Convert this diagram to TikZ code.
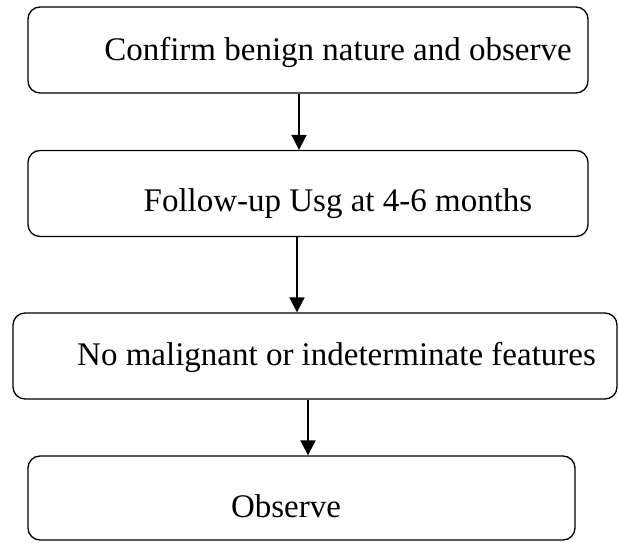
\documentclass[tikz,border=0pt]{standalone}
\usepackage{fontspec}
\setmainfont{Liberation Serif}
\usetikzlibrary{arrows.meta}

% text lowered in its box by #1
\newcommand{\boxtext}[2]{\raisebox{-#1}[0pt][0pt]{#2}}

\begin{document}
\begin{tikzpicture}[x=1pt,y=-1pt,
  stepbox/.style={draw, rounded corners=12pt, line width=1.3pt, minimum height=86pt,
    inner sep=0pt, font=\fontsize{33}{40}\selectfont},
  flow/.style={line width=1.8pt, -{Triangle[length=15pt,width=15pt]}}]
  \useasboundingbox (0,0) rectangle (618,543);

  % Flow boxes
  \node[stepbox, minimum width=560pt] (confirm) at (308,50)
    {\boxtext{10pt}{\hspace*{60pt}Confirm benign nature and observe}};
  \node[stepbox, minimum width=560pt] (followup) at (308,193.5)
    {\boxtext{18pt}{\hspace*{60pt}Follow-up Usg at 4-6 months}};
  \node[stepbox, minimum width=604pt] (nomalig) at (315,356)
    {\boxtext{9pt}{\hspace*{43pt}No malignant or indeterminate features}};
  \node[stepbox, minimum width=547pt, minimum height=84pt] (observe) at (301.5,498)
    {\boxtext{19pt}{Observe\hspace*{31pt}}};

  % Arrows
  \draw[flow] ([xshift=-9pt]confirm.south) -- ([xshift=-9pt]followup.north);
  \draw[flow] ([xshift=-11pt]followup.south) -- ([xshift=-18pt]nomalig.north);
  \draw[flow] ([xshift=-7pt]nomalig.south) -- ([xshift=6.5pt]observe.north);
\end{tikzpicture}
\end{document}
